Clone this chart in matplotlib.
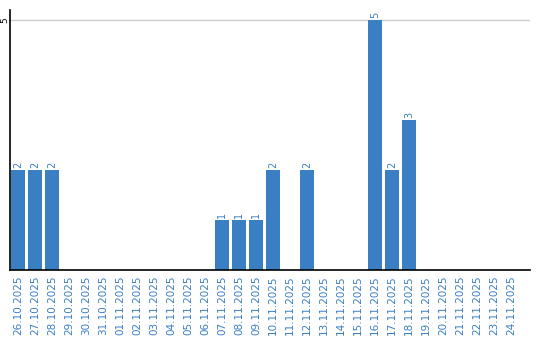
import matplotlib
matplotlib.use('Agg')
import matplotlib.pyplot as plt

dates = ['26.10.2025', '27.10.2025', '28.10.2025', '29.10.2025', '30.10.2025',
         '31.10.2025', '01.11.2025', '02.11.2025', '03.11.2025', '04.11.2025',
         '05.11.2025', '06.11.2025', '07.11.2025', '08.11.2025', '09.11.2025',
         '10.11.2025', '11.11.2025', '12.11.2025', '13.11.2025', '14.11.2025',
         '15.11.2025', '16.11.2025', '17.11.2025', '18.11.2025', '19.11.2025',
         '20.11.2025', '21.11.2025', '22.11.2025', '23.11.2025', '24.11.2025']
counts = [2, 2, 2, 0, 0, 0, 0, 0, 0, 0, 0, 0, 1, 1, 1, 2, 0, 2, 0, 0, 0,
          5, 2, 3, 0, 0, 0, 0, 0, 0]

blue = '#3a7ec4'

fig = plt.figure(figsize=(5.4, 3.4), dpi=100)
ax = fig.add_axes([10 / 540, 70 / 340, 520 / 540, 260 / 340])

x = list(range(len(dates)))
ax.bar(x, counts, width=0.82, color=blue, zorder=2)
for xi, v in zip(x, counts):
    if v > 0:
        ax.text(xi, v + 0.04, str(v), rotation=90, ha='center', va='bottom',
                fontsize=7, color=blue)

ax.set_xlim(-0.47, 30.1)
ax.set_ylim(0, 5.2)
ax.set_yticks([5])
ax.set_yticklabels(['5'], rotation=90, va='center', fontsize=6.5)
ax.yaxis.grid(True, color='#cccccc', linewidth=1, zorder=0)
ax.set_xticks(x)
ax.set_xticklabels(dates, rotation=90, fontsize=7.5, color=blue)
ax.tick_params(axis='x', length=0, pad=4)
ax.tick_params(axis='y', length=0, pad=0.5)
ax.spines['top'].set_visible(False)
ax.spines['right'].set_visible(False)
ax.spines['left'].set_linewidth(1.2)
ax.spines['bottom'].set_linewidth(1.2)

fig.savefig('out.png', dpi=100)
